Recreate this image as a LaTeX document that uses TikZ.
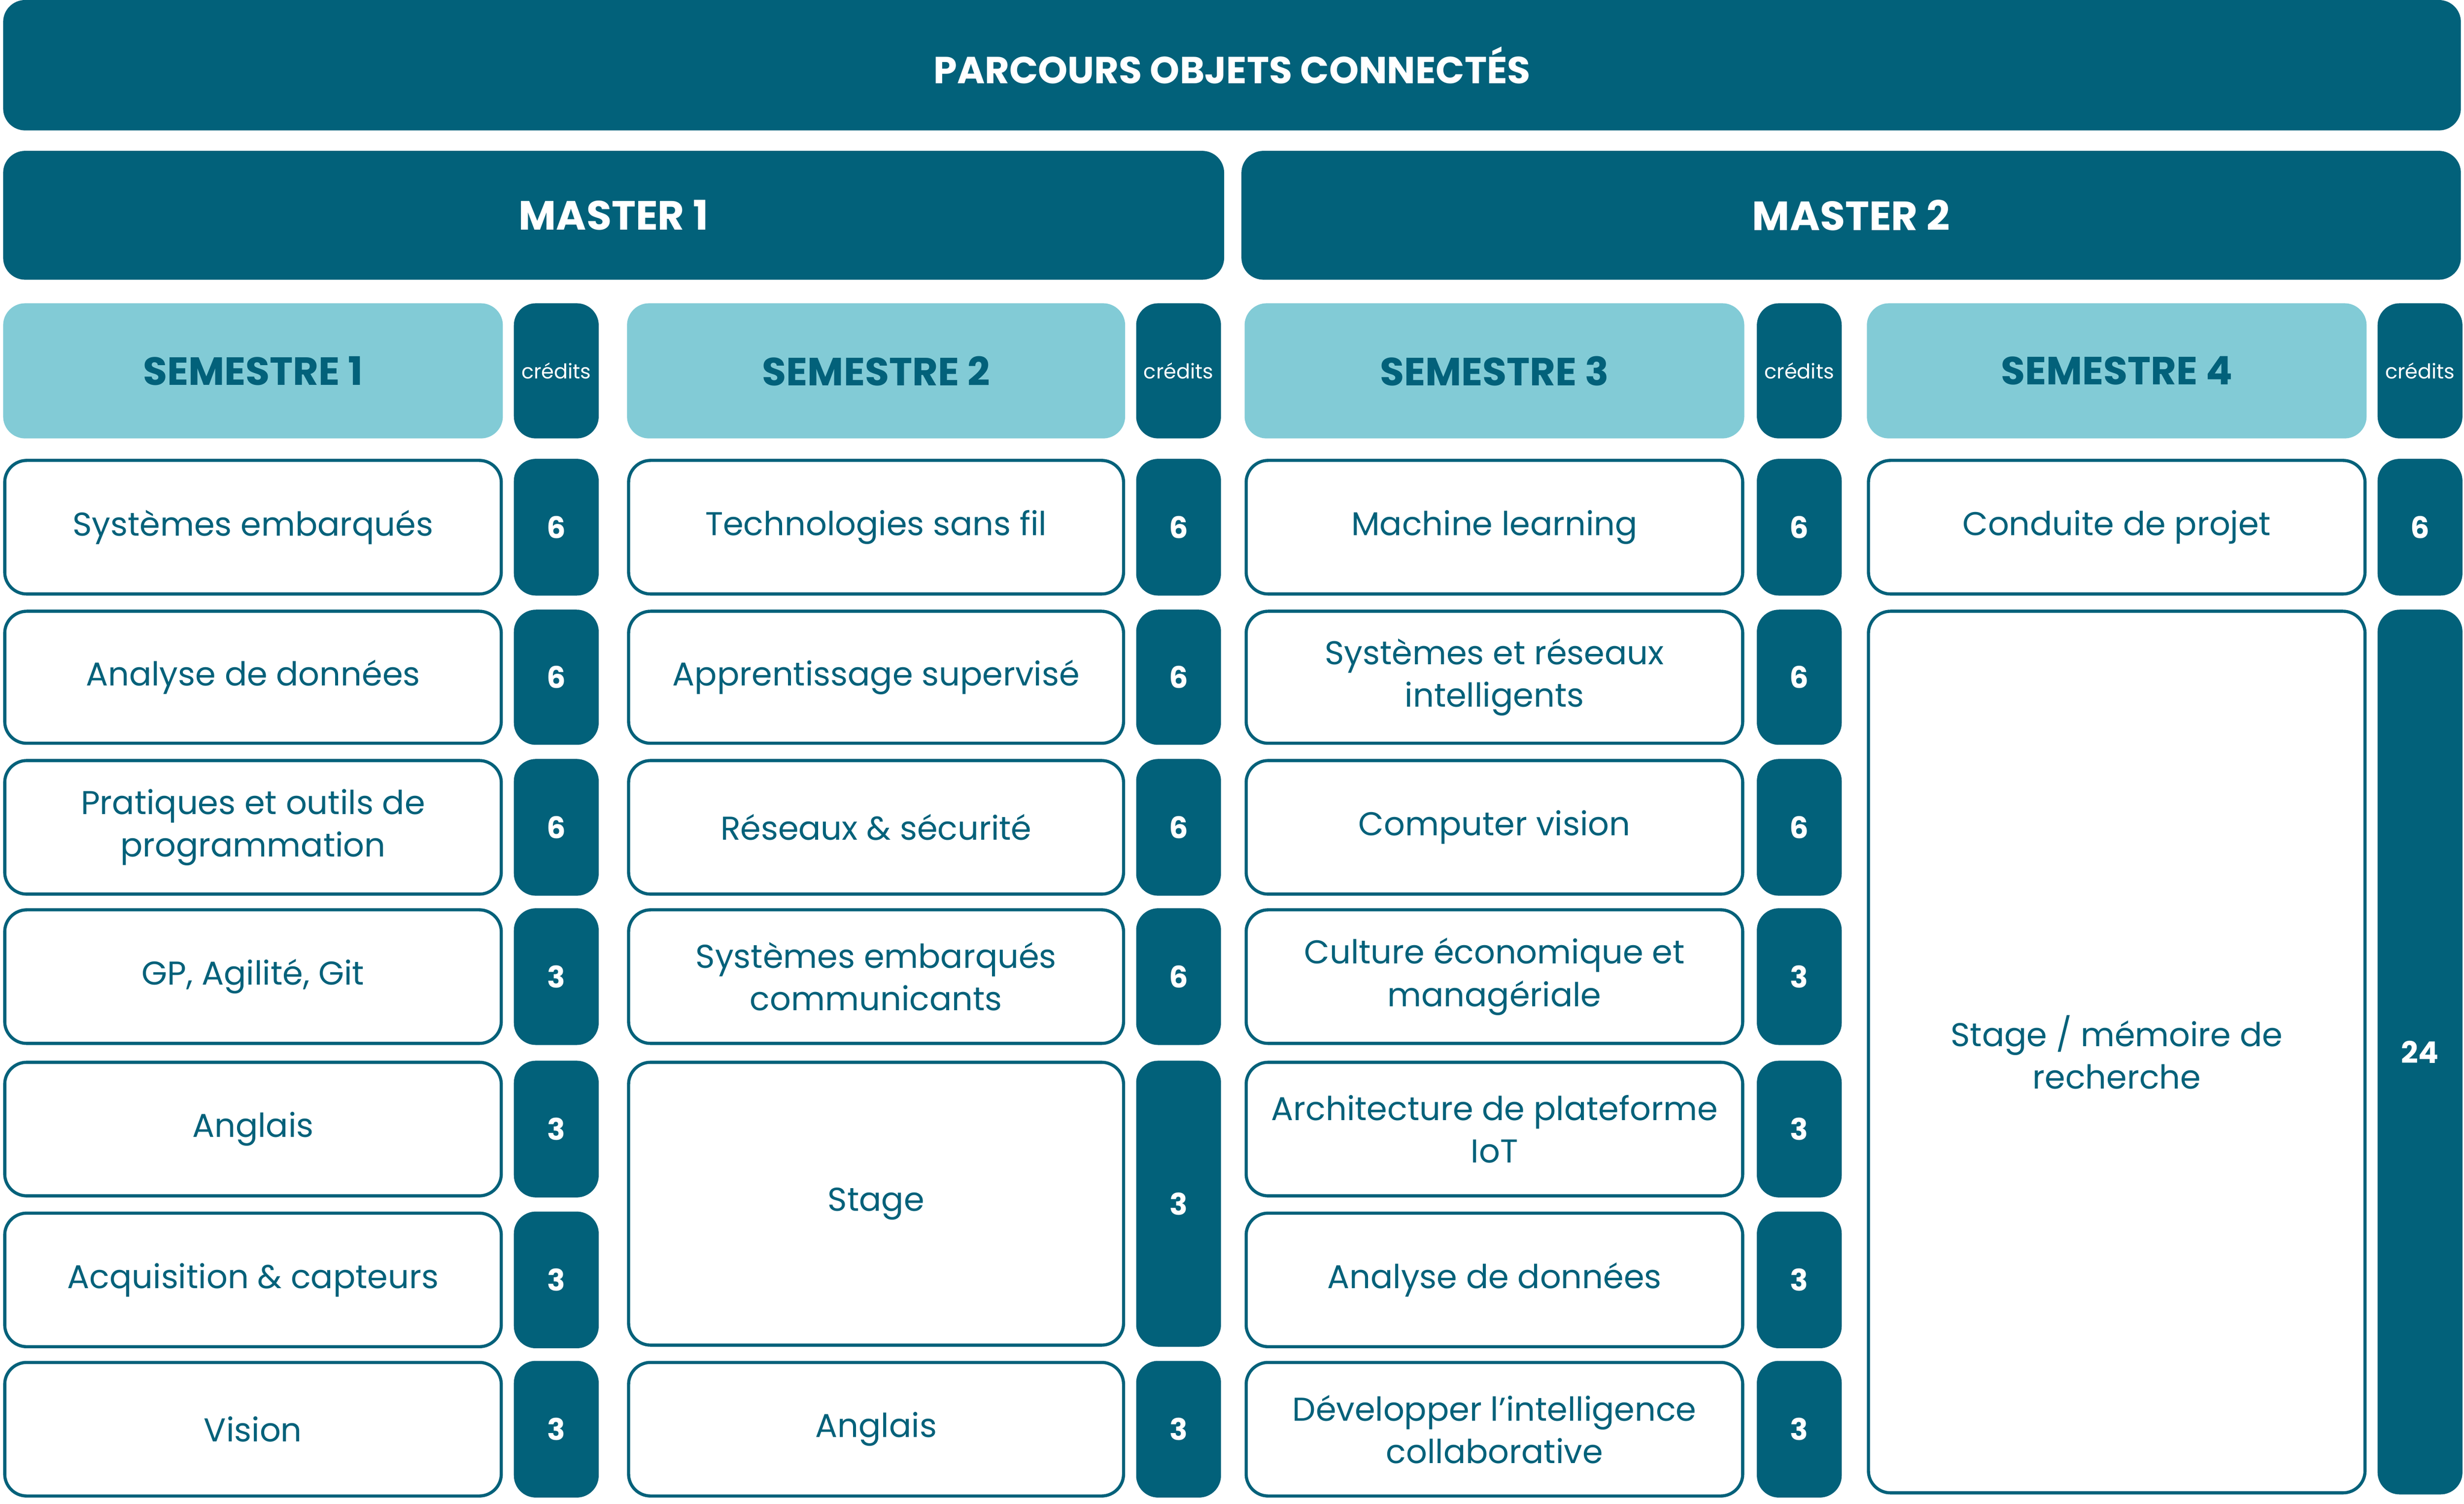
\documentclass[tikz,border=0pt]{standalone}
\usepackage{fontspec}
\setmainfont{Poppins}
\definecolor{dk}{HTML}{02617A}
\definecolor{lt}{HTML}{82CBD6}
\tikzset{
 base/.style={rounded corners=14pt,align=center,inner sep=0pt,anchor=center},
 dark/.style={base,fill=dk,text=white,font=\fontsize{24}{26}\selectfont\bfseries},
 light/.style={base,fill=lt,text=dk,font=\fontsize{25}{28}\selectfont\bfseries},
 course/.style={base,fill=white,draw=dk,line width=2pt,text=dk,font=\fontsize{21}{27}\selectfont},
 cred/.style={base,fill=dk,text=white,font=\fontsize{19}{22}\selectfont\bfseries},
 credh/.style={base,fill=dk,text=white,font=\fontsize{13}{15}\selectfont},
}
\newcommand{\bx}[7]{\node[#1,minimum width=#4-#2,minimum height=#5-#3] (#6) at ({(#2+#4)/2},{(#3+#5)/2}) {#7};}
\newcommand{\cx}[7]{\node[#1,minimum width=#4-#2-2,minimum height=#5-#3-2] (#6) at ({(#2+#4)/2},{(#3+#5)/2}) {#7};}
\begin{document}
\begin{tikzpicture}[x=1pt,y=-1pt]
\useasboundingbox (0,0) rectangle (1568,957);
\bx{dark}{2}{0}{1566}{83}{top}{PARCOURS OBJETS CONNECTÉS}
\bx{dark,font=\fontsize{26}{28}\selectfont\bfseries}{2}{96}{779}{178}{m1}{MASTER 1}
\bx{dark,font=\fontsize{26}{28}\selectfont\bfseries}{790}{96}{1566}{178}{m2}{MASTER 2}
% semester headers
\bx{light}{2}{193}{320}{279}{s1}{SEMESTRE 1}
\bx{credh}{327}{193}{381}{279}{c1}{crédits}
\bx{light}{399}{193}{716}{279}{s2}{SEMESTRE 2}
\bx{credh}{723}{193}{777}{279}{c2}{crédits}
\bx{light}{792}{193}{1110}{279}{s3}{SEMESTRE 3}
\bx{credh}{1118}{193}{1172}{279}{c3}{crédits}
\bx{light}{1188}{193}{1506}{279}{s4}{SEMESTRE 4}
\bx{credh}{1513}{193}{1567}{279}{c4}{crédits}
% semester 1
\cx{course}{2}{292}{320}{379}{a1}{Systèmes embarqués}
\bx{cred}{327}{292}{381}{379}{a1c}{6}
\cx{course}{2}{388}{320}{474}{a2}{Analyse de données}
\bx{cred}{327}{388}{381}{474}{a2c}{6}
\cx{course}{2}{483}{320}{570}{a3}{Pratiques et outils de\\programmation}
\bx{cred}{327}{483}{381}{570}{a3c}{6}
\cx{course}{2}{578}{320}{665}{a4}{GP, Agilité, Git}
\bx{cred}{327}{578}{381}{665}{a4c}{3}
\cx{course}{2}{675}{320}{762}{a5}{Anglais}
\bx{cred}{327}{675}{381}{762}{a5c}{3}
\cx{course}{2}{771}{320}{858}{a6}{Acquisition \& capteurs}
\bx{cred}{327}{771}{381}{858}{a6c}{3}
\cx{course}{2}{866}{320}{953}{a7}{Vision}
\bx{cred}{327}{866}{381}{953}{a7c}{3}
% semester 2
\cx{course}{399}{292}{716}{379}{b1}{Technologies sans fil}
\bx{cred}{723}{292}{777}{379}{b1c}{6}
\cx{course}{399}{388}{716}{474}{b2}{Apprentissage supervisé}
\bx{cred}{723}{388}{777}{474}{b2c}{6}
\cx{course}{399}{483}{716}{570}{b3}{Réseaux \& sécurité}
\bx{cred}{723}{483}{777}{570}{b3c}{6}
\cx{course}{399}{578}{716}{665}{b4}{Systèmes embarqués\\communicants}
\bx{cred}{723}{578}{777}{665}{b4c}{6}
\cx{course}{399}{675}{716}{857}{b5}{Stage}
\bx{cred}{723}{675}{777}{857}{b5c}{3}
\cx{course}{399}{866}{716}{953}{b7}{Anglais}
\bx{cred}{723}{866}{777}{953}{b7c}{3}
% semester 3
\cx{course}{792}{292}{1110}{379}{d1}{Machine learning}
\bx{cred}{1118}{292}{1172}{379}{d1c}{6}
\cx{course}{792}{388}{1110}{474}{d2}{Systèmes et réseaux\\intelligents}
\bx{cred}{1118}{388}{1172}{474}{d2c}{6}
\cx{course}{792}{483}{1110}{570}{d3}{Computer vision}
\bx{cred}{1118}{483}{1172}{570}{d3c}{6}
\cx{course}{792}{578}{1110}{665}{d4}{Culture économique et\\managériale}
\bx{cred}{1118}{578}{1172}{665}{d4c}{3}
\cx{course}{792}{675}{1110}{762}{d5}{Architecture de plateforme\\IoT}
\bx{cred}{1118}{675}{1172}{762}{d5c}{3}
\cx{course}{792}{771}{1110}{858}{d6}{Analyse de données}
\bx{cred}{1118}{771}{1172}{858}{d6c}{3}
\cx{course}{792}{866}{1110}{953}{d7}{Développer l’intelligence\\collaborative}
\bx{cred}{1118}{866}{1172}{953}{d7c}{3}
% semester 4
\cx{course}{1188}{292}{1506}{379}{e1}{Conduite de projet}
\bx{cred}{1513}{292}{1567}{379}{e1c}{6}
\cx{course}{1188}{388}{1506}{951}{e2}{Stage / mémoire de\\recherche}
\bx{cred}{1513}{388}{1567}{951}{e2c}{24}
\end{tikzpicture}
\end{document}
